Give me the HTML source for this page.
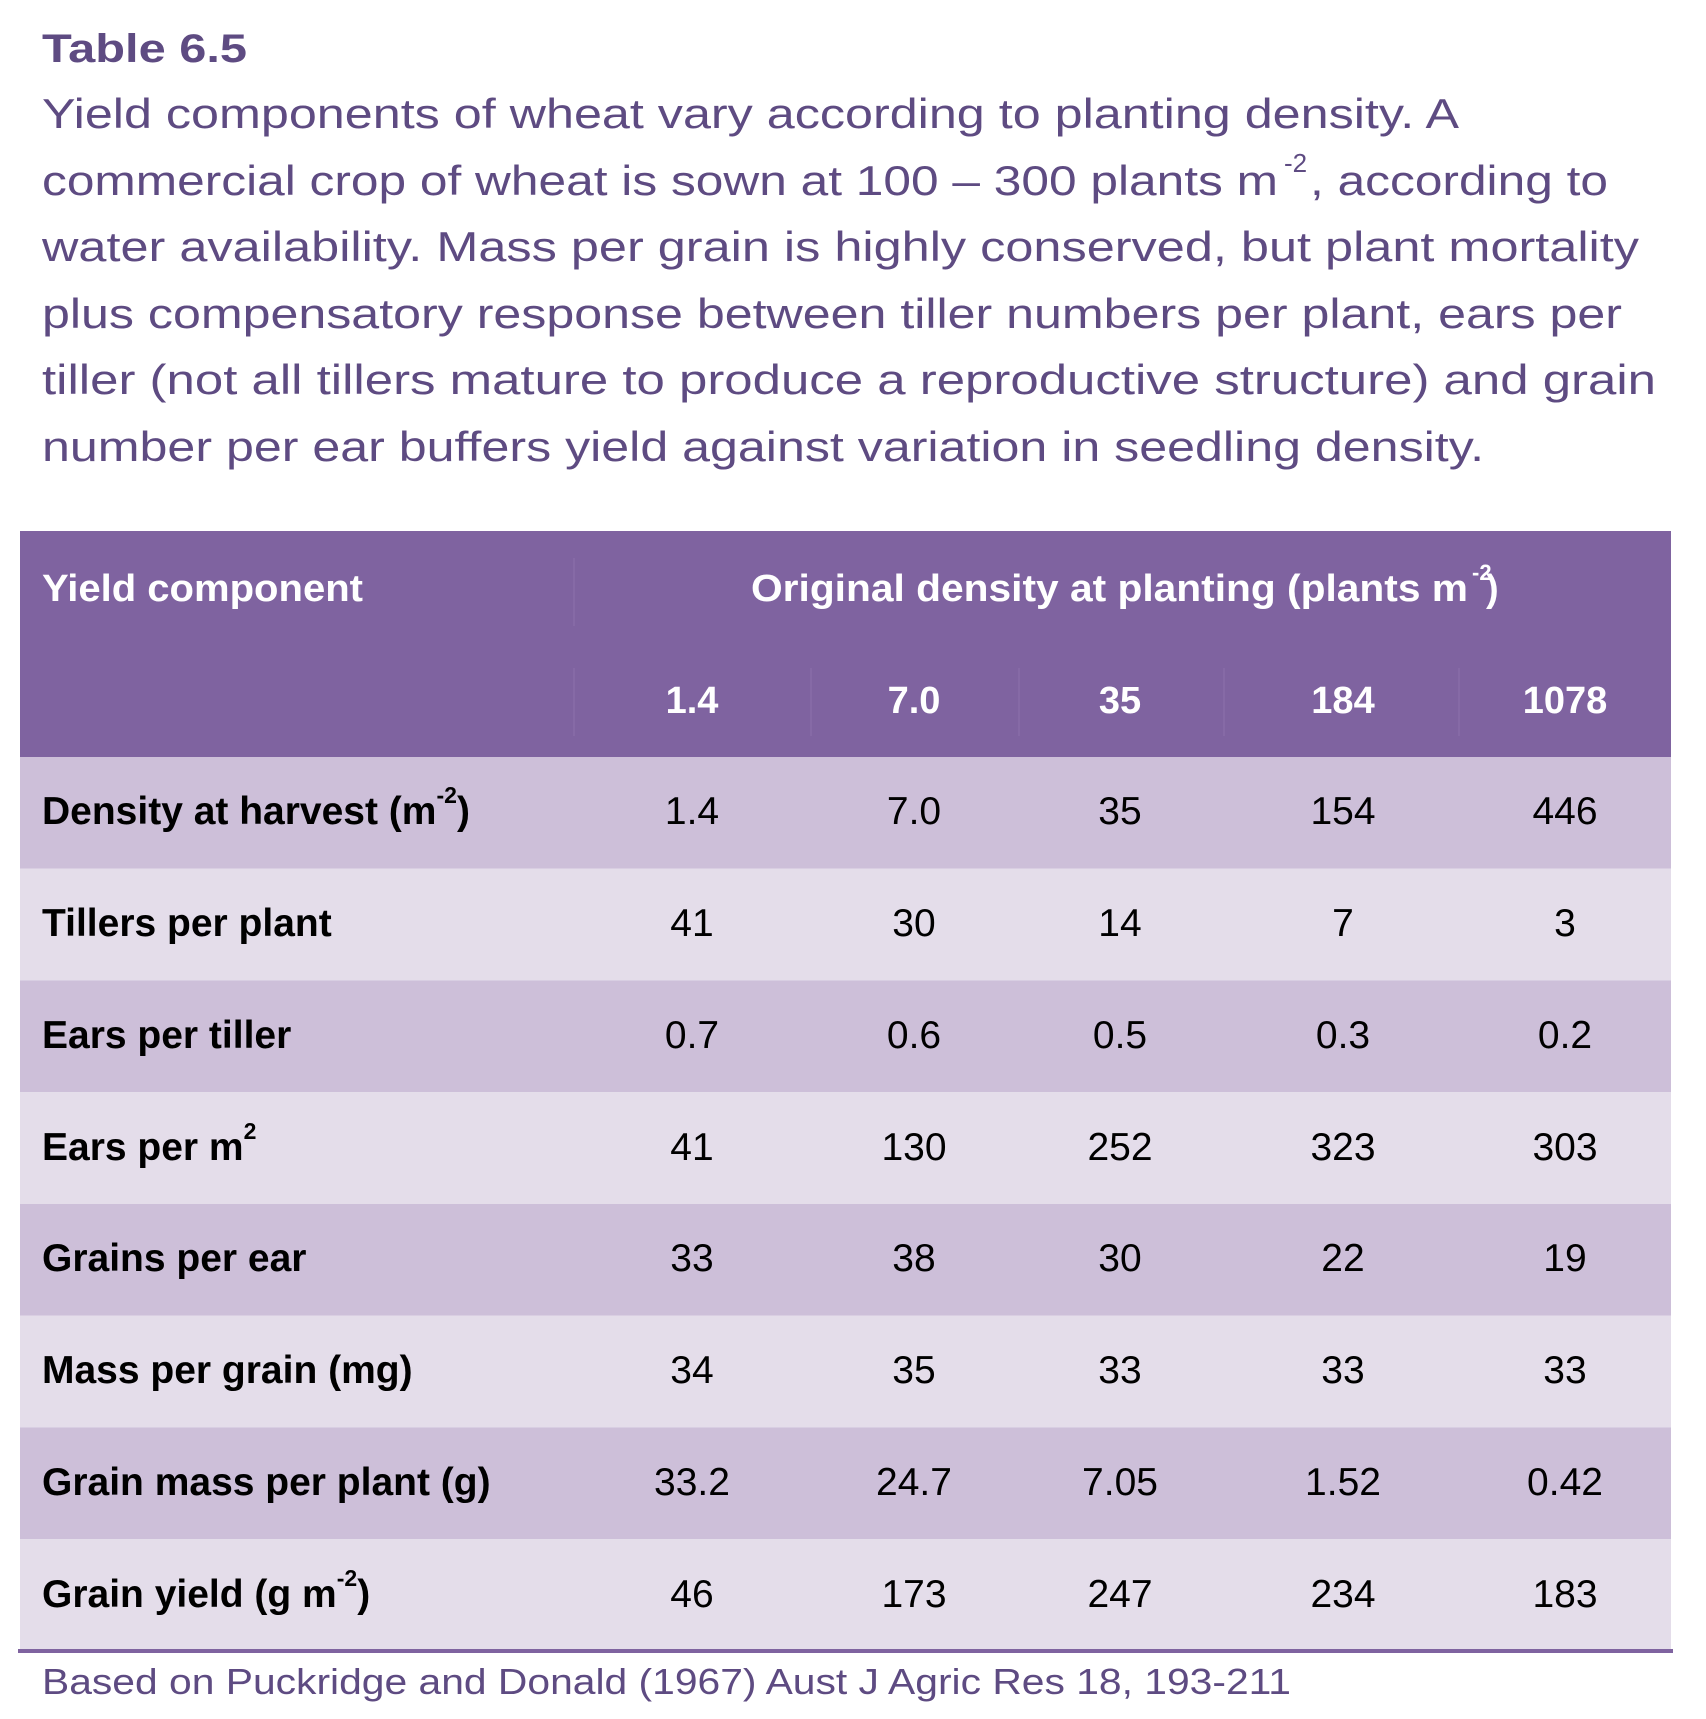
<!DOCTYPE html>
<html><head><meta charset="utf-8"><style>
html,body{margin:0;padding:0;background:#fff;}
svg{display:block;}
</style></head><body>
<svg width="1706" height="1719" viewBox="0 0 1706 1719" xmlns="http://www.w3.org/2000/svg" font-family="Liberation Sans, sans-serif">
<rect width="1706" height="1719" fill="#fff"/>
<g fill="#5E4B82">
<text x="42" y="62" font-size="40" font-weight="bold" textLength="205" lengthAdjust="spacingAndGlyphs">Table 6.5</text>
<g font-size="42">
<text x="42" y="128" textLength="1417" lengthAdjust="spacingAndGlyphs">Yield components of wheat vary according to planting density. A</text>
<text x="42" y="195" textLength="1236" lengthAdjust="spacingAndGlyphs">commercial crop of wheat is sown at 100 – 300 plants m</text>
<text x="1284" y="172" font-size="26">-2</text>
<text x="1310" y="195" textLength="298" lengthAdjust="spacingAndGlyphs">, according to</text>
<text x="42" y="261" textLength="1597" lengthAdjust="spacingAndGlyphs">water availability. Mass per grain is highly conserved, but plant mortality</text>
<text x="42" y="328" textLength="1580" lengthAdjust="spacingAndGlyphs">plus compensatory response between tiller numbers per plant, ears per</text>
<text x="42" y="394" textLength="1614" lengthAdjust="spacingAndGlyphs">tiller (not all tillers mature to produce a reproductive structure) and grain</text>
<text x="42" y="461" textLength="1442" lengthAdjust="spacingAndGlyphs">number per ear buffers yield against variation in seedling density.</text>
</g>
</g>
<!-- header -->
<rect x="20" y="531" width="1651" height="226" fill="#7F63A0"/>
<g stroke="#8C72AB" stroke-width="1">
<line x1="574" y1="558" x2="574" y2="626"/>
<line x1="574" y1="668" x2="574" y2="736"/>
<line x1="811" y1="668" x2="811" y2="736"/>
<line x1="1019" y1="668" x2="1019" y2="736"/>
<line x1="1224" y1="668" x2="1224" y2="736"/>
<line x1="1459" y1="668" x2="1459" y2="736"/>
</g>
<g fill="#fff" font-weight="bold" font-size="38">
<text x="42" y="601" textLength="321" lengthAdjust="spacingAndGlyphs">Yield component</text>
<text x="751" y="601" textLength="717" lengthAdjust="spacingAndGlyphs">Original density at planting (plants m</text>
<text x="1472" y="580" font-size="22">-2</text>
<text x="1486" y="601">)</text>
<g text-anchor="middle">
<text x="692" y="713">1.4</text><text x="914" y="713">7.0</text><text x="1120" y="713">35</text><text x="1343" y="713">184</text><text x="1565" y="713">1078</text>
</g>
</g>
<!-- rows -->
<g>
<rect x="20" y="757" width="1651" height="111.75" fill="#CDBFD9"/>
<rect x="20" y="868.75" width="1651" height="111.75" fill="#E4DDEA"/>
<rect x="20" y="980.5" width="1651" height="111.75" fill="#CDBFD9"/>
<rect x="20" y="1092.25" width="1651" height="111.75" fill="#E4DDEA"/>
<rect x="20" y="1204" width="1651" height="111.75" fill="#CDBFD9"/>
<rect x="20" y="1315.75" width="1651" height="111.75" fill="#E4DDEA"/>
<rect x="20" y="1427.5" width="1651" height="111.75" fill="#CDBFD9"/>
<rect x="20" y="1539.25" width="1651" height="111.75" fill="#E4DDEA"/>
</g>
<rect x="18" y="1649" width="1655" height="4" fill="#7F63A0"/>
<g fill="#000" font-size="39">
<g font-weight="bold">
<text x="42" y="824">Density at harvest (m<tspan font-size="23" dy="-21">-2</tspan><tspan dy="21">)</tspan></text>
<text x="42" y="936">Tillers per plant</text>
<text x="42" y="1048">Ears per tiller</text>
<text x="42" y="1160">Ears per m<tspan font-size="23" dy="-21">2</tspan></text>
<text x="42" y="1271">Grains per ear</text>
<text x="42" y="1383">Mass per grain (mg)</text>
<text x="42" y="1495">Grain mass per plant (g)</text>
<text x="42" y="1607">Grain yield (g m<tspan font-size="23" dy="-21">-2</tspan><tspan dy="21">)</tspan></text>
</g>
<g text-anchor="middle">
<text x="692" y="824">1.4</text><text x="914" y="824">7.0</text><text x="1120" y="824">35</text><text x="1343" y="824">154</text><text x="1565" y="824">446</text>
<text x="692" y="936">41</text><text x="914" y="936">30</text><text x="1120" y="936">14</text><text x="1343" y="936">7</text><text x="1565" y="936">3</text>
<text x="692" y="1048">0.7</text><text x="914" y="1048">0.6</text><text x="1120" y="1048">0.5</text><text x="1343" y="1048">0.3</text><text x="1565" y="1048">0.2</text>
<text x="692" y="1160">41</text><text x="914" y="1160">130</text><text x="1120" y="1160">252</text><text x="1343" y="1160">323</text><text x="1565" y="1160">303</text>
<text x="692" y="1271">33</text><text x="914" y="1271">38</text><text x="1120" y="1271">30</text><text x="1343" y="1271">22</text><text x="1565" y="1271">19</text>
<text x="692" y="1383">34</text><text x="914" y="1383">35</text><text x="1120" y="1383">33</text><text x="1343" y="1383">33</text><text x="1565" y="1383">33</text>
<text x="692" y="1495">33.2</text><text x="914" y="1495">24.7</text><text x="1120" y="1495">7.05</text><text x="1343" y="1495">1.52</text><text x="1565" y="1495">0.42</text>
<text x="692" y="1607">46</text><text x="914" y="1607">173</text><text x="1120" y="1607">247</text><text x="1343" y="1607">234</text><text x="1565" y="1607">183</text>
</g>
</g>
<text x="42" y="1694" font-size="36" fill="#5E4B82" textLength="1249" lengthAdjust="spacingAndGlyphs">Based on Puckridge and Donald (1967) Aust J Agric Res 18, 193-211</text>
</svg>
</body></html>
